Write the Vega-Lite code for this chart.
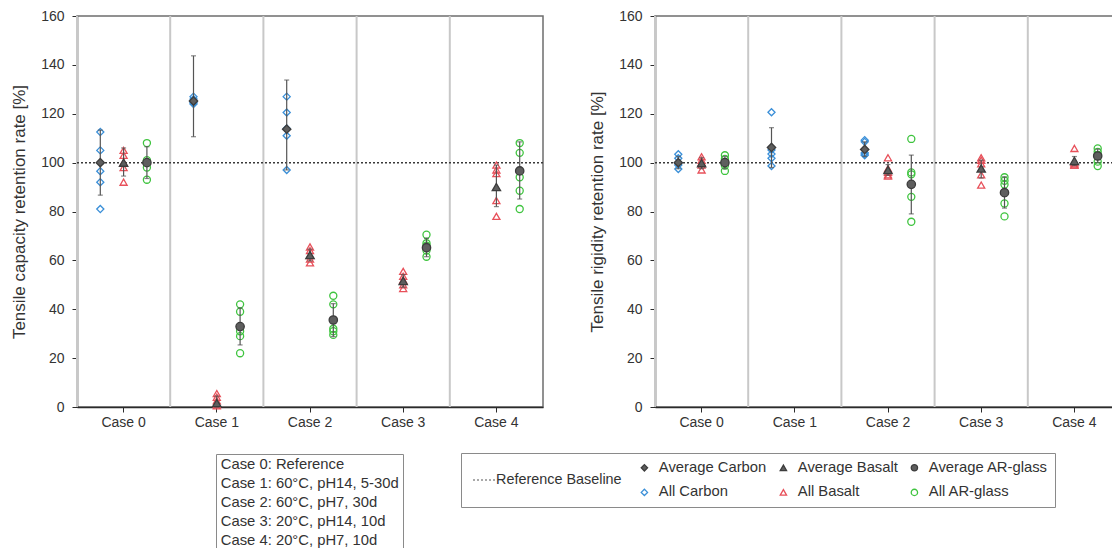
{
  "$schema": "https://vega.github.io/schema/vega-lite/v6.json",
  "autosize": {"type": "pad"},
  "padding": {"left": 9, "top": 8, "right": 0, "bottom": 0},
  "bounds": "flush",
  "spacing": 112,
  "config": {
    "font": "Liberation Sans",
    "view": {"stroke": "#6e6e6e", "strokeWidth": 1.5},
    "axis": {
      "domainColor": "#2b2b2b", "domainWidth": 1.5, "tickColor": "#2b2b2b", "tickSize": 5,
      "labelFontSize": 14, "labelColor": "#333333", "titleFontSize": 17, "titleFontWeight": "normal",
      "titleColor": "#333333", "grid": false, "zindex": 1
    },
    "legend": {"labelFont": "Liberation Sans", "labelFontSize": 14.8, "labelColor": "#333333"}
  },
  "resolve": {
    "scale": {"shape": "independent", "fill": "independent", "stroke": "independent", "strokeDash": "independent"},
    "legend": {"shape": "independent", "fill": "independent", "stroke": "independent", "strokeDash": "independent"}
  },
  "datasets": {
    "cases": [
      {"case": "Case 0", "desc": "Case 0: Reference"},
      {"case": "Case 1", "desc": "Case 1: 60°C, pH14, 5-30d"},
      {"case": "Case 2", "desc": "Case 2: 60°C, pH7, 30d"},
      {"case": "Case 3", "desc": "Case 3: 20°C, pH14, 10d"},
      {"case": "Case 4", "desc": "Case 4: 20°C, pH7, 10d"}
    ],
    "baseline": [{"label": "Reference Baseline", "y": 100}],
    "capAll": [
      {"case": "Case 0", "material": "Carbon", "series": "All Carbon", "value": 112.5},
      {"case": "Case 0", "material": "Carbon", "series": "All Carbon", "value": 105},
      {"case": "Case 0", "material": "Carbon", "series": "All Carbon", "value": 96.5},
      {"case": "Case 0", "material": "Carbon", "series": "All Carbon", "value": 92},
      {"case": "Case 0", "material": "Carbon", "series": "All Carbon", "value": 81},
      {"case": "Case 0", "material": "Basalt", "series": "All Basalt", "value": 105},
      {"case": "Case 0", "material": "Basalt", "series": "All Basalt", "value": 103},
      {"case": "Case 0", "material": "Basalt", "series": "All Basalt", "value": 100},
      {"case": "Case 0", "material": "Basalt", "series": "All Basalt", "value": 98},
      {"case": "Case 0", "material": "Basalt", "series": "All Basalt", "value": 92},
      {"case": "Case 0", "material": "AR-glass", "series": "All AR-glass", "value": 108},
      {"case": "Case 0", "material": "AR-glass", "series": "All AR-glass", "value": 101},
      {"case": "Case 0", "material": "AR-glass", "series": "All AR-glass", "value": 100},
      {"case": "Case 0", "material": "AR-glass", "series": "All AR-glass", "value": 98},
      {"case": "Case 0", "material": "AR-glass", "series": "All AR-glass", "value": 93},
      {"case": "Case 1", "material": "Carbon", "series": "All Carbon", "value": 127},
      {"case": "Case 1", "material": "Carbon", "series": "All Carbon", "value": 126},
      {"case": "Case 1", "material": "Carbon", "series": "All Carbon", "value": 125},
      {"case": "Case 1", "material": "Carbon", "series": "All Carbon", "value": 124.5},
      {"case": "Case 1", "material": "Carbon", "series": "All Carbon", "value": 124},
      {"case": "Case 1", "material": "Basalt", "series": "All Basalt", "value": 5.5},
      {"case": "Case 1", "material": "Basalt", "series": "All Basalt", "value": 4},
      {"case": "Case 1", "material": "Basalt", "series": "All Basalt", "value": 2.5},
      {"case": "Case 1", "material": "Basalt", "series": "All Basalt", "value": 1},
      {"case": "Case 1", "material": "Basalt", "series": "All Basalt", "value": 0.5},
      {"case": "Case 1", "material": "AR-glass", "series": "All AR-glass", "value": 42},
      {"case": "Case 1", "material": "AR-glass", "series": "All AR-glass", "value": 39},
      {"case": "Case 1", "material": "AR-glass", "series": "All AR-glass", "value": 31},
      {"case": "Case 1", "material": "AR-glass", "series": "All AR-glass", "value": 29},
      {"case": "Case 1", "material": "AR-glass", "series": "All AR-glass", "value": 22},
      {"case": "Case 2", "material": "Carbon", "series": "All Carbon", "value": 127},
      {"case": "Case 2", "material": "Carbon", "series": "All Carbon", "value": 120.5},
      {"case": "Case 2", "material": "Carbon", "series": "All Carbon", "value": 114},
      {"case": "Case 2", "material": "Carbon", "series": "All Carbon", "value": 111},
      {"case": "Case 2", "material": "Carbon", "series": "All Carbon", "value": 97},
      {"case": "Case 2", "material": "Basalt", "series": "All Basalt", "value": 65.5},
      {"case": "Case 2", "material": "Basalt", "series": "All Basalt", "value": 64},
      {"case": "Case 2", "material": "Basalt", "series": "All Basalt", "value": 62},
      {"case": "Case 2", "material": "Basalt", "series": "All Basalt", "value": 60.5},
      {"case": "Case 2", "material": "Basalt", "series": "All Basalt", "value": 59},
      {"case": "Case 2", "material": "AR-glass", "series": "All AR-glass", "value": 45.5},
      {"case": "Case 2", "material": "AR-glass", "series": "All AR-glass", "value": 42},
      {"case": "Case 2", "material": "AR-glass", "series": "All AR-glass", "value": 32},
      {"case": "Case 2", "material": "AR-glass", "series": "All AR-glass", "value": 31},
      {"case": "Case 2", "material": "AR-glass", "series": "All AR-glass", "value": 29.5},
      {"case": "Case 3", "material": "Basalt", "series": "All Basalt", "value": 55.5},
      {"case": "Case 3", "material": "Basalt", "series": "All Basalt", "value": 53.5},
      {"case": "Case 3", "material": "Basalt", "series": "All Basalt", "value": 52},
      {"case": "Case 3", "material": "Basalt", "series": "All Basalt", "value": 50},
      {"case": "Case 3", "material": "Basalt", "series": "All Basalt", "value": 48.5},
      {"case": "Case 3", "material": "AR-glass", "series": "All AR-glass", "value": 70.5},
      {"case": "Case 3", "material": "AR-glass", "series": "All AR-glass", "value": 67},
      {"case": "Case 3", "material": "AR-glass", "series": "All AR-glass", "value": 66},
      {"case": "Case 3", "material": "AR-glass", "series": "All AR-glass", "value": 64},
      {"case": "Case 3", "material": "AR-glass", "series": "All AR-glass", "value": 61.5},
      {"case": "Case 4", "material": "Basalt", "series": "All Basalt", "value": 99},
      {"case": "Case 4", "material": "Basalt", "series": "All Basalt", "value": 97},
      {"case": "Case 4", "material": "Basalt", "series": "All Basalt", "value": 95.5},
      {"case": "Case 4", "material": "Basalt", "series": "All Basalt", "value": 84.5},
      {"case": "Case 4", "material": "Basalt", "series": "All Basalt", "value": 78},
      {"case": "Case 4", "material": "AR-glass", "series": "All AR-glass", "value": 108},
      {"case": "Case 4", "material": "AR-glass", "series": "All AR-glass", "value": 104},
      {"case": "Case 4", "material": "AR-glass", "series": "All AR-glass", "value": 94},
      {"case": "Case 4", "material": "AR-glass", "series": "All AR-glass", "value": 88.5},
      {"case": "Case 4", "material": "AR-glass", "series": "All AR-glass", "value": 81}
    ],
    "capAvg": [
      {"case": "Case 0", "material": "Carbon", "series": "Average Carbon", "value": 100, "lo": 86.7, "hi": 113.3},
      {"case": "Case 0", "material": "Basalt", "series": "Average Basalt", "value": 100, "lo": 94.5, "hi": 106},
      {"case": "Case 0", "material": "AR-glass", "series": "Average AR-glass", "value": 100, "lo": 93.5, "hi": 106.5},
      {"case": "Case 1", "material": "Carbon", "series": "Average Carbon", "value": 125.2, "lo": 110.6, "hi": 143.7},
      {"case": "Case 1", "material": "Basalt", "series": "Average Basalt", "value": 1.6, "lo": 0, "hi": 4.5},
      {"case": "Case 1", "material": "AR-glass", "series": "Average AR-glass", "value": 32.9, "lo": 25.4, "hi": 40.5},
      {"case": "Case 2", "material": "Carbon", "series": "Average Carbon", "value": 113.7, "lo": 97, "hi": 133.8},
      {"case": "Case 2", "material": "Basalt", "series": "Average Basalt", "value": 62.2, "lo": 59.8, "hi": 64.6},
      {"case": "Case 2", "material": "AR-glass", "series": "Average AR-glass", "value": 35.6, "lo": 28.8, "hi": 42.3},
      {"case": "Case 3", "material": "Basalt", "series": "Average Basalt", "value": 51.6, "lo": 49, "hi": 54.2},
      {"case": "Case 3", "material": "AR-glass", "series": "Average AR-glass", "value": 65.2, "lo": 61.5, "hi": 69},
      {"case": "Case 4", "material": "Basalt", "series": "Average Basalt", "value": 90, "lo": 82, "hi": 99},
      {"case": "Case 4", "material": "AR-glass", "series": "Average AR-glass", "value": 96.6, "lo": 85.1, "hi": 108.5}
    ],
    "rigAll": [
      {"case": "Case 0", "material": "Carbon", "series": "All Carbon", "value": 103.4},
      {"case": "Case 0", "material": "Carbon", "series": "All Carbon", "value": 101.8},
      {"case": "Case 0", "material": "Carbon", "series": "All Carbon", "value": 100},
      {"case": "Case 0", "material": "Carbon", "series": "All Carbon", "value": 99},
      {"case": "Case 0", "material": "Carbon", "series": "All Carbon", "value": 97.4},
      {"case": "Case 0", "material": "Basalt", "series": "All Basalt", "value": 102.4},
      {"case": "Case 0", "material": "Basalt", "series": "All Basalt", "value": 101},
      {"case": "Case 0", "material": "Basalt", "series": "All Basalt", "value": 100},
      {"case": "Case 0", "material": "Basalt", "series": "All Basalt", "value": 99},
      {"case": "Case 0", "material": "Basalt", "series": "All Basalt", "value": 97},
      {"case": "Case 0", "material": "AR-glass", "series": "All AR-glass", "value": 103},
      {"case": "Case 0", "material": "AR-glass", "series": "All AR-glass", "value": 101.5},
      {"case": "Case 0", "material": "AR-glass", "series": "All AR-glass", "value": 100},
      {"case": "Case 0", "material": "AR-glass", "series": "All AR-glass", "value": 98.8},
      {"case": "Case 0", "material": "AR-glass", "series": "All AR-glass", "value": 96.6},
      {"case": "Case 1", "material": "Carbon", "series": "All Carbon", "value": 120.6},
      {"case": "Case 1", "material": "Carbon", "series": "All Carbon", "value": 105.2},
      {"case": "Case 1", "material": "Carbon", "series": "All Carbon", "value": 103.5},
      {"case": "Case 1", "material": "Carbon", "series": "All Carbon", "value": 101.8},
      {"case": "Case 1", "material": "Carbon", "series": "All Carbon", "value": 98.6},
      {"case": "Case 2", "material": "Carbon", "series": "All Carbon", "value": 109.2},
      {"case": "Case 2", "material": "Carbon", "series": "All Carbon", "value": 108.5},
      {"case": "Case 2", "material": "Carbon", "series": "All Carbon", "value": 104},
      {"case": "Case 2", "material": "Carbon", "series": "All Carbon", "value": 103.5},
      {"case": "Case 2", "material": "Carbon", "series": "All Carbon", "value": 103},
      {"case": "Case 2", "material": "Basalt", "series": "All Basalt", "value": 102},
      {"case": "Case 2", "material": "Basalt", "series": "All Basalt", "value": 97.5},
      {"case": "Case 2", "material": "Basalt", "series": "All Basalt", "value": 96},
      {"case": "Case 2", "material": "Basalt", "series": "All Basalt", "value": 95},
      {"case": "Case 2", "material": "Basalt", "series": "All Basalt", "value": 94.5},
      {"case": "Case 2", "material": "AR-glass", "series": "All AR-glass", "value": 109.7},
      {"case": "Case 2", "material": "AR-glass", "series": "All AR-glass", "value": 96},
      {"case": "Case 2", "material": "AR-glass", "series": "All AR-glass", "value": 95.2},
      {"case": "Case 2", "material": "AR-glass", "series": "All AR-glass", "value": 86},
      {"case": "Case 2", "material": "AR-glass", "series": "All AR-glass", "value": 75.8},
      {"case": "Case 3", "material": "Basalt", "series": "All Basalt", "value": 102},
      {"case": "Case 3", "material": "Basalt", "series": "All Basalt", "value": 101},
      {"case": "Case 3", "material": "Basalt", "series": "All Basalt", "value": 99.5},
      {"case": "Case 3", "material": "Basalt", "series": "All Basalt", "value": 95},
      {"case": "Case 3", "material": "Basalt", "series": "All Basalt", "value": 90.8},
      {"case": "Case 3", "material": "AR-glass", "series": "All AR-glass", "value": 94},
      {"case": "Case 3", "material": "AR-glass", "series": "All AR-glass", "value": 92.6},
      {"case": "Case 3", "material": "AR-glass", "series": "All AR-glass", "value": 91},
      {"case": "Case 3", "material": "AR-glass", "series": "All AR-glass", "value": 83.3},
      {"case": "Case 3", "material": "AR-glass", "series": "All AR-glass", "value": 78},
      {"case": "Case 4", "material": "Basalt", "series": "All Basalt", "value": 105.8},
      {"case": "Case 4", "material": "Basalt", "series": "All Basalt", "value": 100},
      {"case": "Case 4", "material": "Basalt", "series": "All Basalt", "value": 99.5},
      {"case": "Case 4", "material": "Basalt", "series": "All Basalt", "value": 99},
      {"case": "Case 4", "material": "Basalt", "series": "All Basalt", "value": 99},
      {"case": "Case 4", "material": "AR-glass", "series": "All AR-glass", "value": 105.8},
      {"case": "Case 4", "material": "AR-glass", "series": "All AR-glass", "value": 104.4},
      {"case": "Case 4", "material": "AR-glass", "series": "All AR-glass", "value": 103},
      {"case": "Case 4", "material": "AR-glass", "series": "All AR-glass", "value": 100.4},
      {"case": "Case 4", "material": "AR-glass", "series": "All AR-glass", "value": 98.6}
    ],
    "rigAvg": [
      {"case": "Case 0", "material": "Carbon", "series": "Average Carbon", "value": 100, "lo": 97.5, "hi": 102.5},
      {"case": "Case 0", "material": "Basalt", "series": "Average Basalt", "value": 99.8, "lo": 97.5, "hi": 102},
      {"case": "Case 0", "material": "AR-glass", "series": "Average AR-glass", "value": 100, "lo": 97.5, "hi": 102.5},
      {"case": "Case 1", "material": "Carbon", "series": "Average Carbon", "value": 106.2, "lo": 98, "hi": 114.3},
      {"case": "Case 2", "material": "Carbon", "series": "Average Carbon", "value": 105.4, "lo": 102.5, "hi": 108.5},
      {"case": "Case 2", "material": "Basalt", "series": "Average Basalt", "value": 97, "lo": 94.8, "hi": 99.2},
      {"case": "Case 2", "material": "AR-glass", "series": "Average AR-glass", "value": 91.1, "lo": 79, "hi": 103.1},
      {"case": "Case 3", "material": "Basalt", "series": "Average Basalt", "value": 97.6, "lo": 93.7, "hi": 101},
      {"case": "Case 3", "material": "AR-glass", "series": "Average AR-glass", "value": 87.7, "lo": 81.4, "hi": 94.2},
      {"case": "Case 4", "material": "Basalt", "series": "Average Basalt", "value": 100.7, "lo": 98.8, "hi": 102.5},
      {"case": "Case 4", "material": "AR-glass", "series": "Average AR-glass", "value": 102.7, "lo": 100, "hi": 105.5}
    ]
  },
  "hconcat": [
    {
      "width": 466,
      "height": 391,
      "layer": [
        {
          "data": {"name": "cases"},
          "mark": {"type": "rule", "color": "#c8c8c8", "strokeWidth": 2},
          "encoding": {
            "x": {"field": "case", "type": "nominal", "bandPosition": 0, "scale": {"type": "band", "paddingInner": 0, "paddingOuter": 0}, "axis": {"title": null, "labelAngle": 0, "labelPadding": 3}},
            "strokeDash": {"field": "desc", "type": "nominal", "scale": {"range": [[1, 0], [1, 0], [1, 0], [1, 0], [1, 0]]},
              "legend": {"title": null, "orient": "none", "legendX": 139, "legendY": 438, "symbolSize": 0, "symbolOpacity": 0, "symbolStrokeWidth": 0, "labelOffset": -14, "padding": 4, "rowPadding": 2.8, "strokeColor": "#8a8a8a", "labelLimit": 300}}
          }
        },
        {
          "data": {"name": "baseline"},
          "mark": {"type": "rule", "color": "#3a3a3a", "strokeWidth": 1.5, "strokeDash": [2, 2]},
          "encoding": {
            "y": {"field": "y", "type": "quantitative", "scale": {"domain": [0, 160]}, "axis": {"title": "Tensile capacity retention rate [%]", "values": [0, 20, 40, 60, 80, 100, 120, 140, 160], "labelPadding": 8, "titlePadding": 12}}
          }
        },
        {
          "data": {"name": "capAll"},
          "mark": {"type": "point", "size": 50, "strokeWidth": 1.3, "opacity": 1},
          "encoding": {
            "x": {"field": "case", "type": "nominal", "scale": {"type": "band", "paddingInner": 0, "paddingOuter": 0}, "axis": {"title": null, "labelAngle": 0, "labelPadding": 3}},
            "xOffset": {"field": "material", "type": "nominal", "scale": {"type": "point", "domain": ["Carbon", "Basalt", "AR-glass"], "padding": 1.5}},
            "y": {"field": "value", "type": "quantitative", "scale": {"domain": [0, 160]}},
            "shape": {"field": "series", "type": "nominal", "scale": {"domain": ["Average Carbon", "Average Basalt", "Average AR-glass", "All Carbon", "All Basalt", "All AR-glass"], "range": ["diamond", "triangle-up", "circle", "diamond", "triangle-up", "circle"]}, "legend": null},
            "stroke": {"field": "series", "type": "nominal", "scale": {"domain": ["Average Carbon", "Average Basalt", "Average AR-glass", "All Carbon", "All Basalt", "All AR-glass"], "range": ["#3c3c3c", "#3c3c3c", "#3c3c3c", "#3a8fd8", "#e8505a", "#3fc43f"]}, "legend": null},
            "fill": {"field": "series", "type": "nominal", "scale": {"domain": ["Average Carbon", "Average Basalt", "Average AR-glass", "All Carbon", "All Basalt", "All AR-glass"], "range": ["#5e5e5e", "#5e5e5e", "#5e5e5e", "transparent", "transparent", "transparent"]}, "legend": null}
          }
        },
        {
          "data": {"name": "capAvg"},
          "mark": {"type": "rule", "color": "#555555", "strokeWidth": 1.2},
          "encoding": {
            "x": {"field": "case", "type": "nominal", "scale": {"type": "band", "paddingInner": 0, "paddingOuter": 0}, "axis": {"title": null, "labelAngle": 0, "labelPadding": 3}},
            "xOffset": {"field": "material", "type": "nominal", "scale": {"type": "point", "domain": ["Carbon", "Basalt", "AR-glass"], "padding": 1.5}},
            "y": {"field": "lo", "type": "quantitative", "scale": {"domain": [0, 160]}},
            "y2": {"field": "hi"}
          }
        },
        {
          "data": {"name": "capAvg"},
          "mark": {"type": "tick", "color": "#555555", "orient": "horizontal", "size": 5, "thickness": 1.2},
          "encoding": {
            "x": {"field": "case", "type": "nominal", "scale": {"type": "band", "paddingInner": 0, "paddingOuter": 0}, "axis": {"title": null, "labelAngle": 0, "labelPadding": 3}},
            "xOffset": {"field": "material", "type": "nominal", "scale": {"type": "point", "domain": ["Carbon", "Basalt", "AR-glass"], "padding": 1.5}},
            "y": {"field": "hi", "type": "quantitative", "scale": {"domain": [0, 160]}}
          }
        },
        {
          "data": {"name": "capAvg"},
          "mark": {"type": "tick", "color": "#555555", "orient": "horizontal", "size": 5, "thickness": 1.2},
          "encoding": {
            "x": {"field": "case", "type": "nominal", "scale": {"type": "band", "paddingInner": 0, "paddingOuter": 0}, "axis": {"title": null, "labelAngle": 0, "labelPadding": 3}},
            "xOffset": {"field": "material", "type": "nominal", "scale": {"type": "point", "domain": ["Carbon", "Basalt", "AR-glass"], "padding": 1.5}},
            "y": {"field": "lo", "type": "quantitative", "scale": {"domain": [0, 160]}}
          }
        },
        {
          "data": {"name": "capAvg"},
          "mark": {"type": "point", "size": 70, "strokeWidth": 1.3, "opacity": 1},
          "encoding": {
            "x": {"field": "case", "type": "nominal", "scale": {"type": "band", "paddingInner": 0, "paddingOuter": 0}, "axis": {"title": null, "labelAngle": 0, "labelPadding": 3}},
            "xOffset": {"field": "material", "type": "nominal", "scale": {"type": "point", "domain": ["Carbon", "Basalt", "AR-glass"], "padding": 1.5}},
            "y": {"field": "value", "type": "quantitative", "scale": {"domain": [0, 160]}},
            "shape": {"field": "series", "type": "nominal", "scale": {"domain": ["Average Carbon", "Average Basalt", "Average AR-glass", "All Carbon", "All Basalt", "All AR-glass"], "range": ["diamond", "triangle-up", "circle", "diamond", "triangle-up", "circle"]}, "legend": null},
            "stroke": {"field": "series", "type": "nominal", "scale": {"domain": ["Average Carbon", "Average Basalt", "Average AR-glass", "All Carbon", "All Basalt", "All AR-glass"], "range": ["#3c3c3c", "#3c3c3c", "#3c3c3c", "#3a8fd8", "#e8505a", "#3fc43f"]}, "legend": null},
            "fill": {"field": "series", "type": "nominal", "scale": {"domain": ["Average Carbon", "Average Basalt", "Average AR-glass", "All Carbon", "All Basalt", "All AR-glass"], "range": ["#5e5e5e", "#5e5e5e", "#5e5e5e", "transparent", "transparent", "transparent"]}, "legend": null}
          }
        }
      ]
    },
    {
      "width": 466,
      "height": 391,
      "layer": [
        {
          "data": {"name": "cases"},
          "mark": {"type": "rule", "color": "#c8c8c8", "strokeWidth": 2},
          "encoding": {
            "x": {"field": "case", "type": "nominal", "bandPosition": 0, "scale": {"type": "band", "paddingInner": 0, "paddingOuter": 0}, "axis": {"title": null, "labelAngle": 0, "labelPadding": 3}}
          }
        },
        {
          "data": {"name": "baseline"},
          "mark": {"type": "rule", "color": "#3a3a3a", "strokeWidth": 1.5},
          "encoding": {
            "y": {"field": "y", "type": "quantitative", "scale": {"domain": [0, 160]}, "axis": {"title": "Tensile rigidity retention rate [%]", "values": [0, 20, 40, 60, 80, 100, 120, 140, 160], "labelPadding": 8, "titlePadding": 12}},
            "strokeDash": {"field": "label", "type": "nominal", "scale": {"range": [[2, 2]]},
              "legend": {"title": null, "orient": "none", "legendX": -183, "legendY": 452, "symbolType": "stroke", "symbolSize": 484, "symbolStrokeColor": "#555555", "symbolStrokeWidth": 1.2, "labelOffset": 0, "labelFontSize": 14.4, "padding": 0}}
          }
        },
        {
          "data": {"name": "rigAll"},
          "mark": {"type": "point", "size": 50, "strokeWidth": 1.3, "opacity": 1},
          "encoding": {
            "x": {"field": "case", "type": "nominal", "scale": {"type": "band", "paddingInner": 0, "paddingOuter": 0}, "axis": {"title": null, "labelAngle": 0, "labelPadding": 3}},
            "xOffset": {"field": "material", "type": "nominal", "scale": {"type": "point", "domain": ["Carbon", "Basalt", "AR-glass"], "padding": 1.5}},
            "y": {"field": "value", "type": "quantitative", "scale": {"domain": [0, 160]}},
            "shape": {"field": "series", "type": "nominal", "scale": {"domain": ["Average Carbon", "Average Basalt", "Average AR-glass", "All Carbon", "All Basalt", "All AR-glass"], "range": ["diamond", "triangle-up", "circle", "diamond", "triangle-up", "circle"]},
              "legend": {"title": "\u00a0", "titleOrient": "left", "titlePadding": 169, "columns": 3, "direction": "horizontal", "orient": "none", "legendX": -194, "legendY": 437, "padding": 7, "strokeColor": "#8a8a8a", "symbolSize": 40, "symbolStrokeWidth": 1.3, "rowPadding": 9, "columnPadding": 9, "labelOffset": 7, "labelLimit": 300}},
            "stroke": {"field": "series", "type": "nominal", "scale": {"domain": ["Average Carbon", "Average Basalt", "Average AR-glass", "All Carbon", "All Basalt", "All AR-glass"], "range": ["#3c3c3c", "#3c3c3c", "#3c3c3c", "#3a8fd8", "#e8505a", "#3fc43f"]},
              "legend": {"title": "\u00a0", "titleOrient": "left", "titlePadding": 169, "columns": 3, "direction": "horizontal", "orient": "none", "legendX": -194, "legendY": 437, "padding": 7, "strokeColor": "#8a8a8a", "symbolSize": 40, "symbolStrokeWidth": 1.3, "rowPadding": 9, "columnPadding": 9, "labelOffset": 7, "labelLimit": 300}},
            "fill": {"field": "series", "type": "nominal", "scale": {"domain": ["Average Carbon", "Average Basalt", "Average AR-glass", "All Carbon", "All Basalt", "All AR-glass"], "range": ["#5e5e5e", "#5e5e5e", "#5e5e5e", "transparent", "transparent", "transparent"]},
              "legend": {"title": "\u00a0", "titleOrient": "left", "titlePadding": 169, "columns": 3, "direction": "horizontal", "orient": "none", "legendX": -194, "legendY": 437, "padding": 7, "strokeColor": "#8a8a8a", "symbolSize": 40, "symbolStrokeWidth": 1.3, "rowPadding": 9, "columnPadding": 9, "labelOffset": 7, "labelLimit": 300}}
          }
        },
        {
          "data": {"name": "rigAvg"},
          "mark": {"type": "rule", "color": "#555555", "strokeWidth": 1.2},
          "encoding": {
            "x": {"field": "case", "type": "nominal", "scale": {"type": "band", "paddingInner": 0, "paddingOuter": 0}, "axis": {"title": null, "labelAngle": 0, "labelPadding": 3}},
            "xOffset": {"field": "material", "type": "nominal", "scale": {"type": "point", "domain": ["Carbon", "Basalt", "AR-glass"], "padding": 1.5}},
            "y": {"field": "lo", "type": "quantitative", "scale": {"domain": [0, 160]}},
            "y2": {"field": "hi"}
          }
        },
        {
          "data": {"name": "rigAvg"},
          "mark": {"type": "tick", "color": "#555555", "orient": "horizontal", "size": 5, "thickness": 1.2},
          "encoding": {
            "x": {"field": "case", "type": "nominal", "scale": {"type": "band", "paddingInner": 0, "paddingOuter": 0}, "axis": {"title": null, "labelAngle": 0, "labelPadding": 3}},
            "xOffset": {"field": "material", "type": "nominal", "scale": {"type": "point", "domain": ["Carbon", "Basalt", "AR-glass"], "padding": 1.5}},
            "y": {"field": "hi", "type": "quantitative", "scale": {"domain": [0, 160]}}
          }
        },
        {
          "data": {"name": "rigAvg"},
          "mark": {"type": "tick", "color": "#555555", "orient": "horizontal", "size": 5, "thickness": 1.2},
          "encoding": {
            "x": {"field": "case", "type": "nominal", "scale": {"type": "band", "paddingInner": 0, "paddingOuter": 0}, "axis": {"title": null, "labelAngle": 0, "labelPadding": 3}},
            "xOffset": {"field": "material", "type": "nominal", "scale": {"type": "point", "domain": ["Carbon", "Basalt", "AR-glass"], "padding": 1.5}},
            "y": {"field": "lo", "type": "quantitative", "scale": {"domain": [0, 160]}}
          }
        },
        {
          "data": {"name": "rigAvg"},
          "mark": {"type": "point", "size": 70, "strokeWidth": 1.3, "opacity": 1},
          "encoding": {
            "x": {"field": "case", "type": "nominal", "scale": {"type": "band", "paddingInner": 0, "paddingOuter": 0}, "axis": {"title": null, "labelAngle": 0, "labelPadding": 3}},
            "xOffset": {"field": "material", "type": "nominal", "scale": {"type": "point", "domain": ["Carbon", "Basalt", "AR-glass"], "padding": 1.5}},
            "y": {"field": "value", "type": "quantitative", "scale": {"domain": [0, 160]}},
            "shape": {"field": "series", "type": "nominal", "scale": {"domain": ["Average Carbon", "Average Basalt", "Average AR-glass", "All Carbon", "All Basalt", "All AR-glass"], "range": ["diamond", "triangle-up", "circle", "diamond", "triangle-up", "circle"]}},
            "stroke": {"field": "series", "type": "nominal", "scale": {"domain": ["Average Carbon", "Average Basalt", "Average AR-glass", "All Carbon", "All Basalt", "All AR-glass"], "range": ["#3c3c3c", "#3c3c3c", "#3c3c3c", "#3a8fd8", "#e8505a", "#3fc43f"]}},
            "fill": {"field": "series", "type": "nominal", "scale": {"domain": ["Average Carbon", "Average Basalt", "Average AR-glass", "All Carbon", "All Basalt", "All AR-glass"], "range": ["#5e5e5e", "#5e5e5e", "#5e5e5e", "transparent", "transparent", "transparent"]}}
          }
        }
      ]
    }
  ]
}
